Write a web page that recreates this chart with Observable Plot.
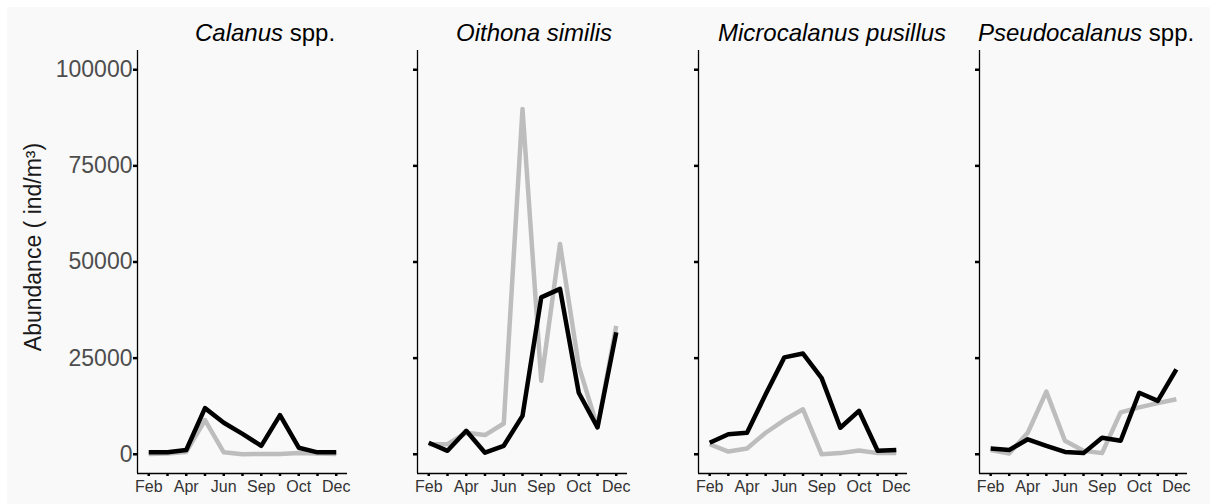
<!DOCTYPE html>
<html>
<head>
<meta charset="utf-8">
<script src="https://cdn.jsdelivr.net/npm/d3@7"></script>
<script src="https://cdn.jsdelivr.net/npm/@observablehq/plot@0.6"></script>
<style>
  body { margin: 0; background: #ffffff; }
  #chart { position: relative; width: 1210px; height: 504px; overflow: hidden; font-family: "Liberation Sans", Arial, sans-serif; }
  #bg { position: absolute; left: 7px; top: 7px; right: 0; bottom: 0; background: #f9f9f9; }
  .panel { position: absolute; top: 0; }
  .title { position: absolute; top: 21px; font-size: 24px; line-height: 24px; white-space: nowrap; color: #000; }
  #ylabel { position: absolute; left: 33px; top: 247px; width: 0; height: 0; }
  #ylabel span { position: absolute; left: 0; top: 0; transform: translate(-50%, -50%) rotate(-90deg); white-space: nowrap;
    font-size: 23px; line-height: 23px; color: #1a1a1a; }
</style>
</head>
<body>
<div id="chart"><div id="bg"></div></div>
<script>
// ---- data ----
const sampleIndex = [0, 1, 2, 3, 4, 5, 6, 7, 8, 9, 10];
const tickLabelIndex = [0, 2, 4, 6, 8, 10];
const tickLabels = ["Feb", "Apr", "Jun", "Sep", "Oct", "Dec"];
const yTicks = [0, 25000, 50000, 75000, 100000];
const yTitle = "Abundance ( ind/m³)";

const speciesGenus = ["Calanus", "Oithona similis", "Microcalanus pusillus", "Pseudocalanus"];
const speciesSuffix = [" spp.", "", "", " spp."];
const seriesNames = ["series A", "series B"];
const seriesColors = ["#000000", "#bdbdbd"];

const calanusA = [500, 500, 1100, 12000, 8200, 5300, 2200, 10200, 1700, 500, 500];
const calanusB = [100, 200, 600, 8900, 500, 0, 100, 100, 300, 200, 100];
const oithonaA = [3000, 900, 6100, 400, 2200, 10000, 40800, 43000, 16000, 7000, 31700];
const oithonaB = [2600, 2600, 5600, 5000, 8000, 89800, 19100, 54700, 23000, 7000, 33400];
const microA = [3000, 5200, 5600, 15600, 25200, 26200, 19800, 6900, 11300, 900, 1100];
const microB = [2600, 700, 1500, 5600, 8900, 11700, 0, 300, 1000, 300, 300];
const pseudoA = [1500, 1100, 3900, 2200, 600, 300, 4300, 3500, 16000, 13900, 22100];
const pseudoB = [1100, 200, 5600, 16300, 3500, 900, 300, 10900, 12200, 13300, 14300];

const seriesBySpecies = [
  [calanusA, calanusB],
  [oithonaA, oithonaB],
  [microA, microB],
  [pseudoA, pseudoB]
];

// ---- layout (not data) ----
const panelLayout = [
  {left: 0, width: 350, marginLeft: 137, titleLeft: 195},
  {left: 350, width: 280, marginLeft: 67, titleLeft: 456},
  {left: 630, width: 280, marginLeft: 68, titleLeft: 718},
  {left: 910, width: 280, marginLeft: 69, titleLeft: 978}
];

const chart = document.getElementById("chart");

speciesGenus.forEach((genus, k) => {
  const L = panelLayout[k];
  // draw gray series first, black on top
  const rows = [];
  [1, 0].forEach(s => {
    seriesBySpecies[k][s].forEach((v, j) => rows.push({i: sampleIndex[j], value: v, series: seriesNames[s]}));
  });

  const marks = [
    Plot.line(rows, {x: "i", y: "value", z: "series", stroke: "series", strokeWidth: 4.5, strokeLinecap: "butt", strokeLinejoin: "round"}),
    Plot.ruleX([-0.6], {stroke: "#000", strokeWidth: 1.3}),
    Plot.ruleY([-5000], {stroke: "#000", strokeWidth: 1.3}),
    Plot.axisX({ticks: sampleIndex, tickSize: 3, strokeWidth: 2.5, stroke: "#000", fill: "none", label: null}),
    Plot.axisX({ticks: tickLabelIndex, tickSize: 3, tickPadding: 4, stroke: "none", fill: "#333", fontSize: 16,
      tickFormat: d => tickLabels[tickLabelIndex.indexOf(d)], label: null})
  ];
  if (k === 0) {
    marks.push(Plot.axisY({ticks: yTicks, tickSize: 4, tickPadding: 1, strokeWidth: 2.5, stroke: "#000",
      fill: "#4d4d4d", fontSize: 23, tickFormat: d => String(d), label: null}));
  } else {
    marks.push(Plot.axisY({ticks: yTicks, tickSize: 4, strokeWidth: 2.5, stroke: "#000", fill: "none", label: null}));
  }

  const svg = Plot.plot({
    width: L.width,
    height: 504,
    marginLeft: L.marginLeft,
    marginRight: 3,
    marginTop: 50,
    marginBottom: 31,
    style: {background: "transparent", fontFamily: "\"Liberation Sans\", Arial, sans-serif", overflow: "visible"},
    x: {domain: [-0.6, 10.6], axis: null},
    y: {domain: [-5000, 105000], axis: null},
    color: {domain: seriesNames, range: seriesColors},
    marks
  });
  const wrap = document.createElement("div");
  wrap.className = "panel";
  wrap.style.left = L.left + "px";
  wrap.appendChild(svg);
  chart.appendChild(wrap);

  const title = document.createElement("div");
  title.className = "title";
  title.style.left = L.titleLeft + "px";
  const it = document.createElement("i");
  it.textContent = genus;
  title.appendChild(it);
  if (speciesSuffix[k]) title.appendChild(document.createTextNode(speciesSuffix[k]));
  chart.appendChild(title);
});

const yl = document.createElement("div");
yl.id = "ylabel";
const ys = document.createElement("span");
ys.textContent = yTitle;
yl.appendChild(ys);
chart.appendChild(yl);
</script>
</body>
</html>
